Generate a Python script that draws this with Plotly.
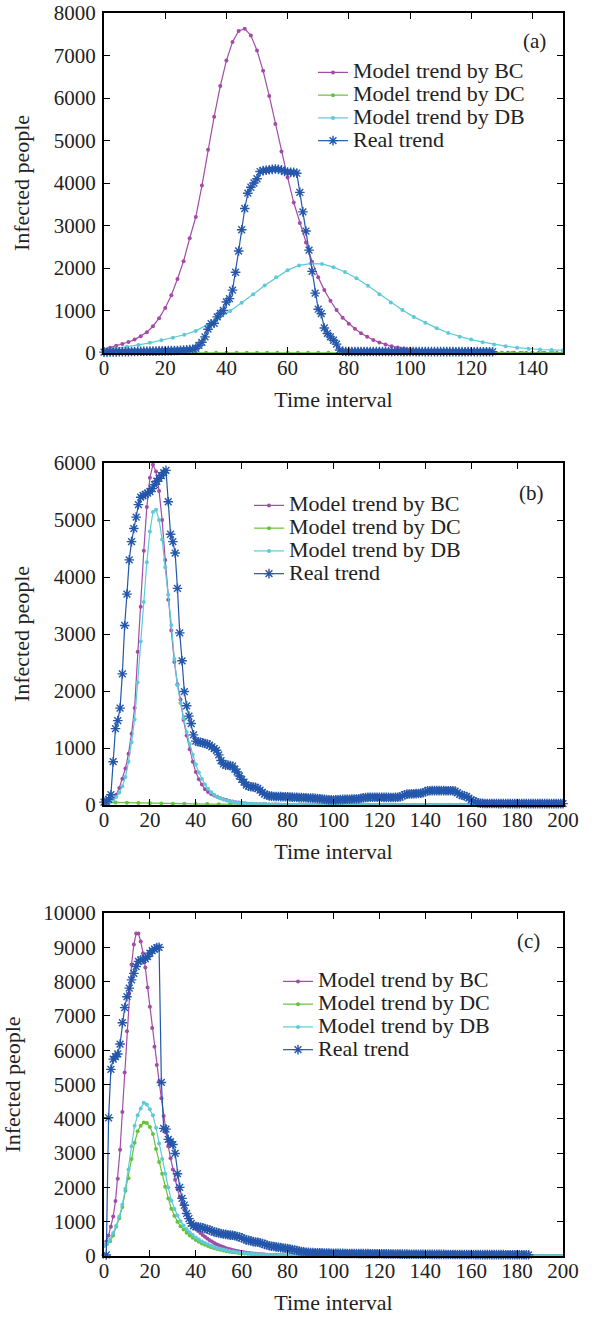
import numpy as np
import plotly.graph_objects as go

# ---------------- Panel (a) ----------------
bc_a = [86, 125, 170, 210, 260, 315, 395, 490, 630, 820,
        1060, 1360, 1740, 2160, 2700, 3200, 3940, 4780, 5560, 6280,
        6880, 7320, 7575, 7630, 7470, 7120, 6640, 6050, 5390, 4740,
        4130, 3540, 3060, 2600, 2150, 1780, 1480, 1230, 1010, 830,
        690, 570, 465, 380, 305, 250, 200, 160, 130, 105,
        85, 70, 55, 45, 37, 30, 24, 20, 16, 13,
        11, 9, 7, 6, 5, 4, 3, 3, 2, 2,
        2, 1, 1, 1, 1, 1]
dc_a = [5, 5, 5, 5, 5, 6, 6, 6, 6, 6,
        7, 7, 7, 7, 7, 7, 7, 7, 7, 7,
        7, 6, 6, 6, 6, 6, 5, 5, 5, 5,
        5, 5, 4, 4, 4, 4, 4, 4, 3, 3,
        3, 3, 3, 3, 3, 3]
db_a = [70, 105, 145, 190, 240, 300, 360, 430, 520, 660,
        810, 990, 1180, 1380, 1590, 1780, 1950, 2060, 2105, 2095,
        2020, 1905, 1760, 1580, 1385, 1190, 1010, 850, 710, 585,
        470, 385, 315, 255, 200, 160, 125, 100, 82, 72,
        65]
real_a = [20, 20, 25, 25, 25, 30, 30, 30, 30, 35,
          35, 35, 40, 40, 40, 45, 45, 45, 50, 50,
          50, 55, 55, 60, 60, 65, 70, 75, 80, 90,
          110, 180, 250, 380, 560, 690, 700, 850, 930, 1000,
          1200, 1280, 1480, 1900, 2400, 2900, 3400, 3760, 3900, 4000,
          4100, 4270, 4290, 4300, 4310, 4320, 4330, 4320, 4310, 4270,
          4260, 4250, 4250, 4230, 3780, 3320, 2870, 2420, 1920, 1410,
          1030, 925, 590, 460, 380, 300, 210, 70, 40, 35,
          35, 34, 35, 36, 35, 34, 35, 35, 34, 35,
          34, 35, 35, 34, 33, 34, 35, 34, 33, 34,
          33, 34, 33, 33, 34, 33, 32, 33, 33, 32,
          33, 32, 32, 33, 32, 31, 32, 32, 31, 32,
          31, 31, 32, 31, 30, 31, 31, 30]

# ---------------- Panel (b) ----------------
bc_b = [20, 35, 60, 110, 180, 300, 460, 640, 900, 1250,
        1700, 2690, 3480, 4460, 5230, 5740, 5970, 5850, 5510, 5000,
        4300, 3600, 3060, 2510, 2120, 1850, 1490, 1220, 980, 760,
        580, 450, 360, 275, 228, 195, 168, 145, 120, 103,
        88, 72, 60, 50, 42, 35, 29, 24, 20, 17,
        14, 12, 11, 10, 9, 8, 7, 7, 6, 6,
        5, 5, 5, 4, 4, 4, 4, 3, 3, 3,
        3, 3, 3, 2, 2, 2, 2, 2, 2, 2,
        2, 2, 2, 1, 1, 1, 1, 1, 1, 1,
        1, 1, 1, 1, 1, 1, 1, 1, 1, 1,
        1, 1, 1, 1, 1, 0, 0, 0, 0, 0,
        0, 0, 0, 0, 0, 0, 0, 0, 0, 0,
        0, 0, 0, 0, 0, 0, 0, 0, 0, 0,
        0, 0, 0, 0, 0, 0, 0, 0, 0, 0,
        0, 0, 0, 0, 0, 0, 0, 0, 0, 0,
        0]
dc_b = [30, 45, 40, 35, 30, 25, 22, 20, 18, 16,
        15, 14, 13, 12, 11, 10, 10, 9, 9, 8,
        8, 8, 7, 7, 7, 6, 6, 6, 6, 5,
        5, 5, 5, 5, 4, 4, 4, 4, 4, 4,
        4]
db_b = [30, 40, 60, 90, 140, 220, 330, 490, 760, 1100,
        1500, 2150, 2870, 3560, 4260, 4800, 5140, 5180, 5000, 4660,
        4170, 3690, 3160, 2560, 2100, 1790, 1520, 1280, 1070, 880,
        710, 570, 455, 360, 285, 225, 180, 145, 118, 97,
        80, 66, 55, 46, 39, 33, 28, 24, 20, 17,
        15, 13, 11, 10, 9, 8, 7, 6, 6, 5,
        5, 4, 4, 4, 3, 3, 3, 3, 2, 2,
        2, 2, 2, 2, 2, 2, 1, 1, 1, 1,
        1, 1, 1, 1, 1, 1, 1, 1, 1, 1,
        1, 1, 1, 1, 1, 1, 1, 1, 1, 1,
        1, 1, 1, 1, 1, 0, 0, 0, 0, 0,
        0, 0, 0, 0, 0, 0, 0, 0, 0, 0,
        0, 0, 0, 0, 0, 0, 0, 0, 0, 0,
        0, 0, 0, 0, 0, 0, 0, 0, 0, 0,
        0, 0, 0, 0, 0, 0, 0, 0, 0, 0,
        0]
real_b = [50, 60, 100, 180, 760, 1340, 1480, 1700, 2300, 3150,
          3700, 4300, 4620, 4850, 5050, 5270, 5400, 5430, 5450, 5470,
          5500, 5550, 5620, 5680, 5730, 5780, 5830, 5870, 5320, 4750,
          4620, 4420, 3800, 3020, 2530, 1990, 1740, 1560, 1430, 1230,
          1120, 1110, 1100, 1090, 1080, 1070, 1050, 1020, 990, 960,
          880, 780, 720, 700, 700, 690, 680, 630, 580, 510,
          450, 400, 350, 330, 320, 315, 310, 290, 260, 220,
          190, 170, 160, 155, 150, 150, 148, 147, 146, 145,
          142, 140, 138, 136, 135, 132, 130, 128, 126, 124,
          122, 120, 118, 115, 110, 105, 100, 95, 90, 90,
          88, 90, 92, 95, 98, 100, 100, 102, 104, 105,
          105, 110, 118, 125, 132, 135, 137, 137, 136, 135,
          135, 135, 134, 133, 133, 132, 132, 133, 135, 140,
          160, 180, 190, 193, 195, 198, 200, 202, 205, 215,
          235, 248, 250, 252, 252, 252, 252, 252, 252, 251,
          251, 250, 250, 245, 215, 185, 170, 160, 150, 120,
          90, 70, 55, 40, 30, 28, 27, 27, 26, 26,
          26, 26, 25, 25, 26, 26, 25, 25, 25, 25,
          25, 25, 26, 26, 25, 25, 25, 25, 25, 25,
          25, 25, 25, 25, 25, 25, 25, 25, 25, 25,
          25]

# ---------------- Panel (c) ----------------
bc_c = [300, 420, 600, 850, 1150, 1600, 2250, 3100, 4200, 5350,
        6550, 7650, 8500, 9080, 9400, 9400, 9170, 8830, 8410, 7830,
        7270, 6650, 6100, 5570, 5090, 4600, 4080, 3600, 3200, 2850,
        2520, 2220, 1950, 1720, 1520, 1350, 1200, 1080, 970, 880,
        800, 730, 670, 610, 560, 510, 460, 420, 380, 345,
        310, 285, 260, 235, 215, 195, 175, 160, 145, 130,
        118, 107, 97, 88, 80, 72, 65, 59, 53, 48,
        43, 39, 35, 32, 29, 26, 23, 21, 19, 17,
        15, 14, 13, 12, 11, 10, 9, 8, 8, 7,
        7, 6, 6, 5, 5, 5, 4, 4, 4, 3,
        3, 3, 3, 3, 2, 2, 2, 2, 2, 2,
        2, 2, 1, 1, 1, 1, 1, 1, 1, 1,
        1, 1, 1, 1, 1, 1, 1, 1, 1, 1,
        1, 1, 1, 1, 1, 0, 0, 0, 0, 0,
        0, 0, 0, 0, 0, 0, 0, 0, 0, 0,
        0, 0, 0, 0, 0, 0, 0, 0, 0, 0,
        0, 0, 0, 0, 0, 0, 0, 0, 0, 0,
        0, 0, 0, 0, 0, 0, 0, 0, 0, 0,
        0, 0, 0, 0, 0, 0, 0, 0, 0, 0,
        0, 0, 0, 0, 0, 0, 0, 0, 0, 0,
        0]
dc_c = [300, 350, 430, 600, 860, 1100, 1430, 1900, 2270, 2830,
        3300, 3640, 3800, 3890, 3880, 3760, 3560, 3120, 2740, 2400,
        2020, 1680, 1380, 1170, 1000, 870, 770, 680, 600, 530,
        470, 415, 365, 325, 290, 255, 228, 203, 180, 160,
        142, 126, 112, 100, 89, 79, 70, 62, 55, 49,
        43, 38, 34, 30, 27, 24, 21, 19, 17, 15,
        13, 12, 11, 10, 9, 8, 7, 6, 6, 5,
        5, 4, 4, 4, 3, 3, 3, 3, 2, 2,
        2, 2, 2, 2, 2, 1, 1, 1, 1, 1,
        1, 1, 1, 1, 1, 1, 1, 1, 1, 1,
        1, 1, 1, 1, 1, 0, 0, 0, 0, 0,
        0, 0, 0, 0, 0, 0, 0, 0, 0, 0,
        0, 0, 0, 0, 0, 0, 0, 0, 0, 0,
        0, 0, 0, 0, 0, 0, 0, 0, 0, 0,
        0, 0, 0, 0, 0, 0, 0, 0, 0, 0,
        0]
db_c = [300, 370, 480, 670, 880, 1150, 1500, 1960, 2520, 3200,
        3800, 4100, 4300, 4470, 4420, 4280, 4100, 3740, 3280, 2830,
        2400, 2000, 1620, 1370, 1180, 1010, 890, 780, 690, 610,
        540, 480, 420, 380, 340, 300, 263, 235, 210, 190,
        170, 146, 130, 116, 103, 92, 81, 72, 64, 56,
        49, 43, 38, 33, 29, 26, 23, 20, 18, 16,
        14, 12, 11, 10, 9, 8, 7, 6, 6, 5,
        5, 4, 4, 4, 3, 3, 3, 3, 2, 2,
        2, 2, 2, 2, 2, 1, 1, 1, 1, 1,
        1, 1, 1, 1, 1, 1, 1, 1, 1, 1,
        1, 1, 1, 1, 1, 0, 0, 0, 0, 0,
        0, 0, 0, 0, 0, 0, 0, 0, 0, 0,
        0, 0, 0, 0, 0, 0, 0, 0, 0, 0,
        0, 0, 0, 0, 0, 0, 0, 0, 0, 0,
        0, 0, 0, 0, 0, 0, 0, 0, 0, 0,
        0]
real_c = [30, 4030, 5440, 5740, 5810, 5890, 6180, 6800, 7240, 7560,
          7810, 8050, 8240, 8440, 8590, 8630, 8640, 8660, 8730, 8830,
          8900, 8950, 8990, 9000, 5060, 3720, 3700, 3400, 3330, 3250,
          2990, 2400, 2000, 1680, 1480, 1240, 1090, 950, 880, 860,
          850, 840, 820, 800, 780, 760, 730, 700, 690, 670,
          655, 640, 630, 620, 610, 605, 590, 570, 555, 530,
          500, 470, 455, 440, 420, 410, 400, 385, 365, 340,
          320, 300, 285, 275, 265, 255, 245, 235, 225, 215,
          200, 190, 175, 160, 145, 130, 120, 110, 105, 100,
          98, 96, 94, 92, 90, 88, 86, 84, 82, 80,
          79, 78, 77, 76, 75, 74, 73, 72, 72, 71,
          70, 70, 69, 68, 68, 67, 66, 66, 65, 65,
          64, 63, 62, 61, 60, 59, 58, 57, 56, 55,
          55, 54, 53, 53, 52, 51, 51, 50, 50, 50,
          49, 49, 48, 48, 47, 47, 46, 46, 45, 45,
          45, 44, 44, 44, 43, 43, 43, 42, 42, 42,
          42, 41, 41, 41, 41, 40, 40, 40, 40, 40,
          39, 39, 39, 39, 38, 38, 38, 38, 37, 37,
          37, 36, 36, 35, 35]

# time axes (regular sampling of each series)
t_bc_a = np.linspace(0, 150, len(bc_a))
t_dc_a = np.linspace(0, 150, len(dc_a))
t_db_a = np.linspace(0, 150, len(db_a))
t_real_a = np.arange(len(real_a))
t_bc_b = np.linspace(0, 200, len(bc_b))
t_dc_b = np.linspace(0, 200, len(dc_b))
t_db_b = np.linspace(0, 200, len(db_b))
t_real_b = np.arange(len(real_b))
t_bc_c = np.linspace(0, 200, len(bc_c))
t_dc_c = np.linspace(0, 200, len(dc_c))
t_db_c = np.linspace(0, 200, len(db_c))
t_real_c = np.arange(1, len(real_c) + 1)

names = ["Model trend by BC", "Model trend by DC", "Model trend by DB", "Real trend"]
panel_labels = ["(a)", "(b)", "(c)"]
x_ticks_a = list(range(0, 141, 20))
x_ticks_bc = list(range(0, 201, 20))

COL_BC = "#a24ca8"
COL_DC = "#66c23c"
COL_DB = "#5ccad8"
COL_RE = "#2457ab"
FONT = "Liberation Serif"
LEG_TEXT_PX = 22

fig = go.Figure()


def add(x, y, name, color, legend, xa, ya, real=False):
    if real:
        marker = dict(symbol="asterisk-open", size=8, color=color,
                      line=dict(color=color, width=1.4))
    else:
        marker = dict(symbol="circle", size=4, color=color,
                      line=dict(width=0))
    fig.add_trace(go.Scatter(
        x=x, y=y, name='<span style="font-size:%dpx">%s</span>' % (LEG_TEXT_PX, name),
        mode="lines+markers",
        line=dict(color=color, width=1.2), marker=marker,
        xaxis=xa, yaxis=ya, legend=legend, cliponaxis=False))


panels = [
    ((t_bc_a, bc_a), (t_dc_a, dc_a), (t_db_a, db_a), (t_real_a, real_a), "legend", "x", "y"),
    ((t_bc_b, bc_b), (t_dc_b, dc_b), (t_db_b, db_b), (t_real_b, real_b), "legend2", "x2", "y2"),
    ((t_bc_c, bc_c), (t_dc_c, dc_c), (t_db_c, db_c), (t_real_c, real_c), "legend3", "x3", "y3"),
]
for bc, dc, db, rl, lg, xa, ya in panels:
    add(bc[0], bc[1], names[0], COL_BC, lg, xa, ya)
    add(dc[0], dc[1], names[1], COL_DC, lg, xa, ya)
    add(db[0], db[1], names[2], COL_DB, lg, xa, ya)
    add(rl[0], rl[1], names[3], COL_RE, lg, xa, ya, real=True)

H = 1317
T, B = 13, 61
PH = H - T - B
L, R = 104, 32
PW = 595 - L - R


def dom(top_px, bot_px):
    return [1 - (bot_px - T) / PH, 1 - (top_px - T) / PH]


def ypos(px):
    return 1 - (px - T) / PH


def xpos(px):
    return (px - L) / PW


axis_common = dict(showline=True, linecolor="black", linewidth=2, mirror="ticks",
                   ticks="inside", ticklen=6, tickwidth=1.2, tickcolor="black",
                   showgrid=False, zeroline=False, automargin=False, tickformat="d",
                   ticklabeloverflow="allow",
                   tickfont=dict(family=FONT, size=21, color="#222"))
title_font = dict(family=FONT, size=22, color="#222")

layout = dict(
    width=595, height=H, paper_bgcolor="white", plot_bgcolor="white",
    margin=dict(l=L, r=R, t=T, b=B, autoexpand=False),
    font=dict(family=FONT, color="#222"),
)

ydoms = [dom(13, 353), dom(463, 805), dom(913, 1256)]
xranges = [[0, 150], [0, 200], [0, 200]]
yranges = [[0, 8000], [0, 6000], [0, 10000]]
ytickvals = [list(range(0, 8001, 1000)), list(range(0, 6001, 1000)), list(range(0, 10001, 1000))]
xtickvals = [x_ticks_a, x_ticks_bc, x_ticks_bc]
sfx = ["", "2", "3"]
for i in range(3):
    s = sfx[i]
    layout["xaxis" + s] = dict(axis_common, domain=[0, 1], anchor="y" + s,
                              range=xranges[i], tickvals=xtickvals[i],
                              ticklabelstandoff=-5,
                              title=dict(text="Time interval", font=title_font, standoff=12))
    layout["yaxis" + s] = dict(axis_common, domain=ydoms[i], anchor="x" + s,
                              range=yranges[i], tickvals=ytickvals[i],
                              ticklabelstandoff=2,
                              title=dict(text="Infected people", font=title_font, standoff=18))

legend_common = dict(bgcolor="rgba(0,0,0,0)", borderwidth=0, tracegroupgap=0,
                     font=dict(family=FONT, size=15.2, color="#222"),
                     xanchor="left", yanchor="top")
layout["legend"] = dict(legend_common, x=xpos(313), y=ypos(56))
layout["legend2"] = dict(legend_common, x=xpos(249), y=ypos(489))
layout["legend3"] = dict(legend_common, x=xpos(278), y=ypos(965))

ann = []
label_pos = [(0.937, 0.918), (0.932, 0.912), (0.924, 0.918)]
for i in range(3):
    s = sfx[i]
    ann.append(dict(text=panel_labels[i], xref=("x" + s) + " domain", yref=("y" + s) + " domain",
                    x=label_pos[i][0], y=label_pos[i][1], xanchor="center", yanchor="middle",
                    showarrow=False, font=dict(family=FONT, size=21, color="#222")))
layout["annotations"] = ann

fig.update_layout(**layout)
fig.write_html("out.html", config={"displayModeBar": False},
               post_script="document.body.style.margin='0px';")
